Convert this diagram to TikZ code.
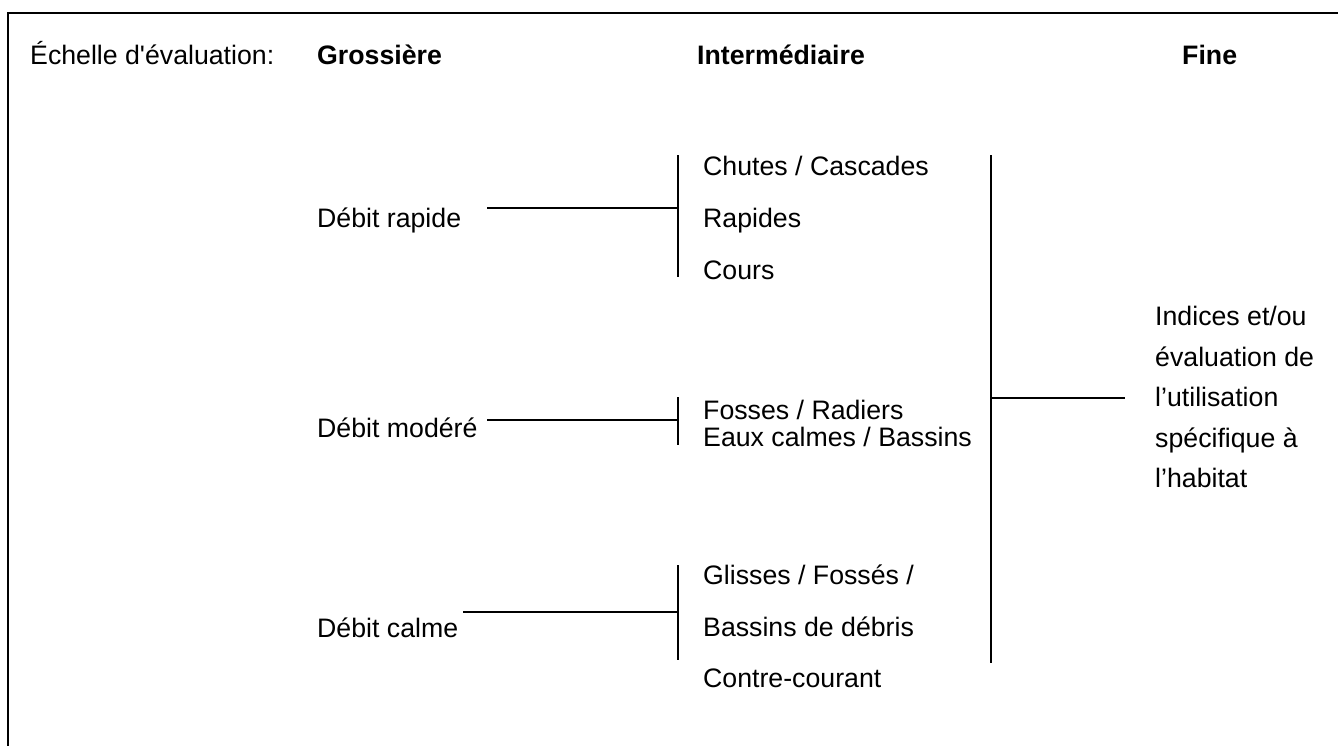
\documentclass[tikz,border=0pt]{standalone}
\usepackage{fontspec}
\setmainfont{Liberation Sans}[Ligatures=TeXOff]
\begin{document}
\begin{tikzpicture}[x=1pt,y=-1pt,
  lbl/.style={anchor=base west,inner sep=0pt,font=\fontsize{26.7pt}{32pt}\selectfont},
  hdr/.style={anchor=base west,inner sep=0pt,font=\fontsize{26.7pt}{32pt}\selectfont\bfseries},
  conn/.style={line width=2pt},
  frameline/.style={line width=2.5pt}]
\useasboundingbox (0,0) rectangle (1338,745);
% frame (only top and left edges visible)
\coordinate (fbl) at (8,746);
\coordinate (ftl) at (8,13);
\coordinate (ftr) at (1339,13);
\draw[frameline] (fbl) -- (ftl) -- (ftr);
% headers
\node[lbl] (scale) at (30,64) {Échelle d'évaluation:};
\node[hdr] (hg) at (317,64) {Grossière};
\node[hdr] (hi) at (697,64) {Intermédiaire};
\node[hdr] (hf) at (1182,64) {Fine};
% coarse
\node[lbl] (dr) at (317,227) {Débit rapide};
\node[lbl] (dm) at (317,437) {Débit modéré};
\node[lbl] (dc) at (317,637) {Débit calme};
% intermediate
\node[lbl] (i1) at (703,175) {Chutes / Cascades};
\node[lbl] (i2) at (703,227) {Rapides};
\node[lbl] (i3) at (703,279) {Cours};
\node[lbl] (i4) at (703,419) {Fosses / Radiers};
\node[lbl] (i5) at (703,446) {Eaux calmes / Bassins};
\node[lbl] (i6) at (703,584) {Glisses / Fossés /};
\node[lbl] (i7) at (703,636) {Bassins de débris};
\node[lbl] (i8) at (703,687) {Contre-courant};
% fine
\node[anchor=north west,inner sep=0pt,align=left,
      font=\fontsize{26.7pt}{40.5pt}\selectfont] (fine) at (1155,306)
  {Indices et/ou\\évaluation de\\l’utilisation\\spécifique à\\l’habitat};
% bars and connectors
\coordinate (b1t) at (678,155); \coordinate (b1b) at (678,277);
\coordinate (j1) at (678,208);  \coordinate (s1) at (487,208);
\coordinate (b2t) at (678,397); \coordinate (b2b) at (678,445);
\coordinate (j2) at (678,420);  \coordinate (s2) at (487,420);
\coordinate (b3t) at (678,565); \coordinate (b3b) at (678,660);
\coordinate (j3) at (678,612);  \coordinate (s3) at (463,612);
\coordinate (b4t) at (991,155); \coordinate (b4b) at (991,663);
\coordinate (j4) at (991,398);  \coordinate (e4) at (1125,398);
\draw[conn] (b1t) -- (b1b);
\draw[conn] (s1) -- (j1);
\draw[conn] (b2t) -- (b2b);
\draw[conn] (s2) -- (j2);
\draw[conn] (b3t) -- (b3b);
\draw[conn] (s3) -- (j3);
\draw[conn] (b4t) -- (b4b);
\draw[conn] (j4) -- (e4);
\end{tikzpicture}
\end{document}
